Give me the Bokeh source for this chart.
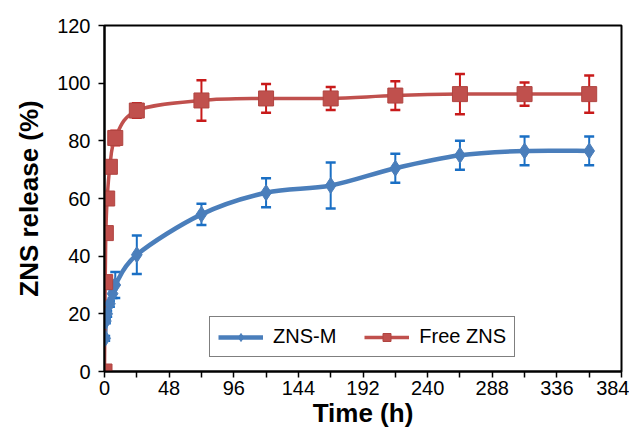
from bokeh.plotting import figure
from bokeh.models import (Range1d, FixedTicker, Legend, LegendItem, ColumnDataSource,
                          Whisker, TeeHead)
from bokeh.embed import file_html
from bokeh.resources import INLINE

# ---- data ----
m_time = [0.5, 1, 2, 4, 6, 8, 24, 72, 120, 168, 216, 264, 312, 360]
m_release = [11.5, 17.5, 20, 23.5, 27, 30, 40.5, 54.5, 62, 64.5, 70.5, 75, 76.5, 76.5]
m_err = [0.8, 0.8, 1, 1, 1.5, 4.5, 6.7, 3.7, 5, 8, 5, 5, 5, 5]

f_time = [0, 0.5, 1, 2, 4, 8, 24, 72, 120, 168, 216, 264, 312, 360]
f_release = [0, 31, 48, 60, 71, 81, 90.5, 94, 94.7, 94.7, 95.7, 96.2, 96.2, 96.2]
f_err = [0.5, 1, 1, 1, 1.5, 2.5, 2.5, 7, 5, 4, 5, 7, 4, 6.5]

x_ticks = [0, 48, 96, 144, 192, 240, 288, 336, 384]
x_minor = [24, 72, 120, 168, 216, 264, 312, 360]
y_ticks = [0, 20, 40, 60, 80, 100, 120]

BLUE = "#4a7ebb"
BLUE_ERR = "#1a6fc4"
RED = "#c0504d"
RED_ERR = "#c81a1a"
FONT = "Liberation Sans"


def bezier_segments(xs, ys):
    n = len(xs)
    out = dict(x0=[], y0=[], x1=[], y1=[], cx0=[], cy0=[], cx1=[], cy1=[])
    for i in range(n - 1):
        px, py = (xs[i - 1], ys[i - 1]) if i > 0 else (xs[i], ys[i])
        nx, ny = (xs[i + 2], ys[i + 2]) if i + 2 < n else (xs[i + 1], ys[i + 1])
        out["x0"].append(xs[i]); out["y0"].append(ys[i])
        out["x1"].append(xs[i + 1]); out["y1"].append(ys[i + 1])
        out["cx0"].append(xs[i] + (xs[i + 1] - px) / 6.0)
        out["cy0"].append(ys[i] + (ys[i + 1] - py) / 6.0)
        out["cx1"].append(xs[i + 1] - (nx - xs[i]) / 6.0)
        out["cy1"].append(ys[i + 1] - (ny - ys[i]) / 6.0)
    return out


p = figure(width=629, height=433, output_backend="svg", toolbar_location=None,
           x_range=Range1d(0, 384), y_range=Range1d(0, 120),
           min_border_left=104, min_border_top=25, min_border_right=8, min_border_bottom=62)
p.xgrid.visible = False
p.ygrid.visible = False
p.outline_line_color = "black"
p.outline_line_width = 2
p.background_fill_color = "white"
p.border_fill_color = "white"

# smooth lines
bm = p.bezier(line_color=BLUE, line_width=4.5, source=ColumnDataSource(bezier_segments(m_time, m_release)),
              x0="x0", y0="y0", x1="x1", y1="y1", cx0="cx0", cy0="cy0", cx1="cx1", cy1="cy1")
bf = p.bezier(line_color=RED, line_width=3.5, source=ColumnDataSource(bezier_segments(f_time, f_release)),
              x0="x0", y0="y0", x1="x1", y1="y1", cx0="cx0", cy0="cy0", cx1="cx1", cy1="cy1")

# markers
m_src = ColumnDataSource(dict(x=m_time, y=m_release,
                              lo=[v - e for v, e in zip(m_release, m_err)],
                              hi=[v + e for v, e in zip(m_release, m_err)]))
f_src = ColumnDataSource(dict(x=f_time, y=f_release,
                              lo=[v - e for v, e in zip(f_release, f_err)],
                              hi=[v + e for v, e in zip(f_release, f_err)]))

sm = p.scatter("x", "y", source=m_src, marker="diamond", size=16, fill_color=BLUE, line_color=BLUE)
sf = p.scatter("x", "y", source=f_src, marker="square", size=15, fill_color=RED, line_color="#b04440")

# error bars
for src, col in ((m_src, BLUE_ERR), (f_src, RED_ERR)):
    w = Whisker(source=src, base="x", lower="lo", upper="hi", line_color=col, line_width=2,
                upper_head=TeeHead(size=10, line_color=col, line_width=2.5),
                lower_head=TeeHead(size=10, line_color=col, line_width=2.5))
    p.add_layout(w)

legend = Legend(items=[
    LegendItem(label="ZNS-M", renderers=[bm, sm]),
    LegendItem(label="Free ZNS", renderers=[bf, sf]),
], orientation="horizontal", location=(105, 14))
legend.label_text_font = FONT
legend.label_text_font_size = "20px"
legend.label_text_color = "black"
legend.border_line_color = "black"
legend.border_line_width = 1.5
legend.background_fill_alpha = 1
legend.glyph_width = 45
legend.glyph_height = 20
legend.label_standoff = 10
legend.spacing = 28
legend.padding = 8
legend.margin = 0
p.add_layout(legend)

# axes
for ax in (p.xaxis[0], p.yaxis[0]):
    ax.axis_line_color = "black"
    ax.axis_line_width = 2
    ax.major_tick_line_color = "black"
    ax.major_tick_line_width = 1.5
    ax.minor_tick_line_color = "black"
    ax.minor_tick_line_width = 1.5
    ax.major_tick_in = 0
    ax.major_tick_out = 6
    ax.minor_tick_in = 0
    ax.minor_tick_out = 6
    ax.major_label_text_font = FONT
    ax.major_label_text_font_size = "20px"
    ax.major_label_text_color = "black"
    ax.axis_label_text_font = FONT
    ax.axis_label_text_font_size = "26px"
    ax.axis_label_text_font_style = "bold"
    ax.axis_label_text_color = "black"

p.xaxis.ticker = FixedTicker(ticks=x_ticks, minor_ticks=x_minor)
p.yaxis.ticker = FixedTicker(ticks=y_ticks, minor_ticks=[])
p.xaxis.axis_label = "Time (h)"
p.yaxis.axis_label = "ZNS release (%)"
p.xaxis.major_label_standoff = 3
p.yaxis.major_label_standoff = 8
p.xaxis.axis_label_standoff = 0
p.yaxis.axis_label_standoff = 10

open("out.html", "w").write(file_html(p, INLINE))
